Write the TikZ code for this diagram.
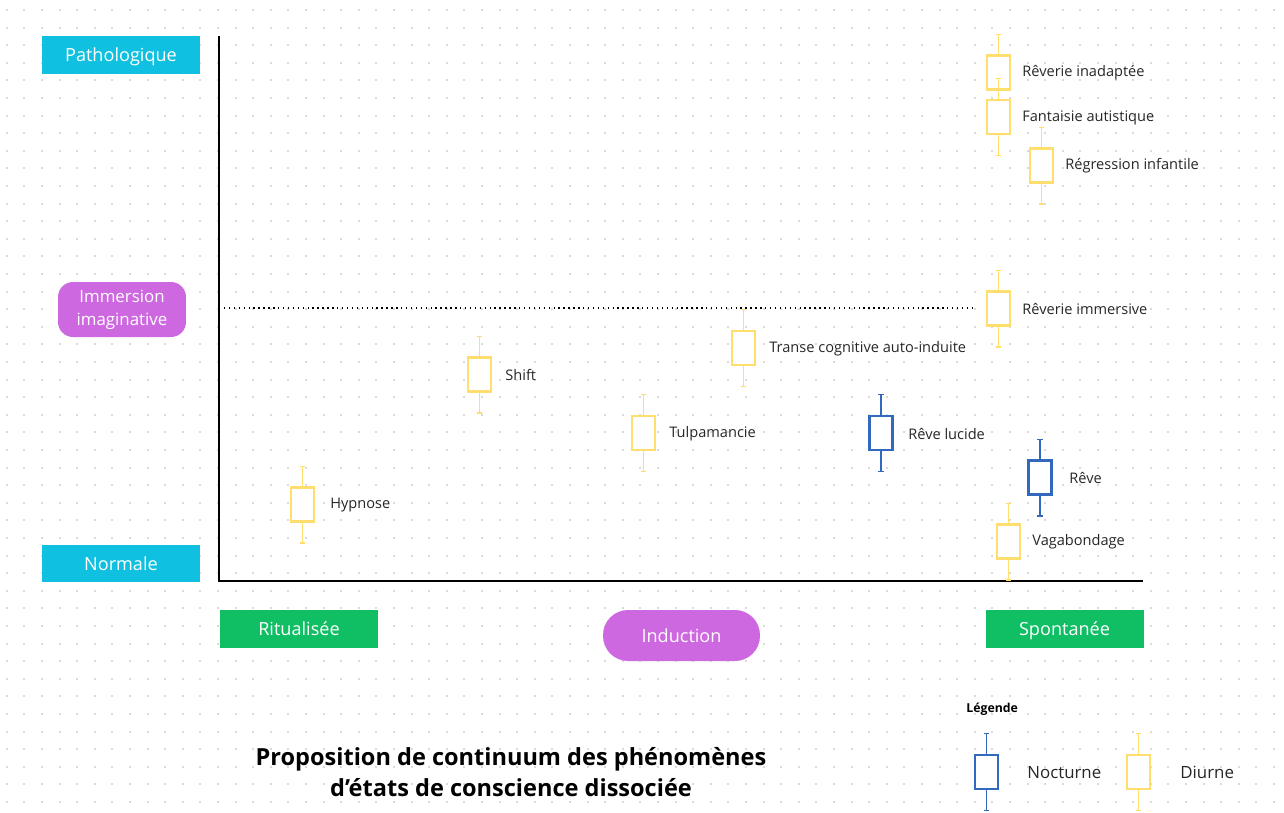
\documentclass[tikz,border=0pt]{standalone}
\usepackage{fontspec}
\setmainfont{Open Sans}
\usetikzlibrary{arrows.meta}
\definecolor{cyanbox}{RGB}{16,192,224}
\definecolor{vertbox}{RGB}{16,190,100}
\definecolor{mauve}{RGB}{206,104,224}
\definecolor{diurne}{RGB}{255,222,110}
\definecolor{nocturne}{RGB}{50,104,190}
\definecolor{grille}{RGB}{218,218,218}
\newcommand{\centretxt}[1]{\raisebox{-3.7pt}[0pt][0pt]{#1}}
\tikzset{axis/.style={line width=1.5pt},
  niveau/.style={fill=cyanbox,text=white,minimum width=3.16cm,minimum height=0.76cm,inner sep=0pt,font=\fontsize{10.3}{12}\selectfont},
  mode/.style={fill=vertbox,text=white,minimum width=3.16cm,minimum height=0.76cm,inner sep=0pt,font=\fontsize{10.3}{12}\selectfont},
  pastille/.style={fill=mauve,text=white,rounded corners=0.3cm,inner sep=0pt,align=center,font=\fontsize{10.3}{13}\selectfont},
  etat/.style={fill=white,line width=1.2pt,minimum width=0.46cm,minimum height=0.68cm,inner sep=0pt},
  whisk/.style={line width=0.8pt,{Bar[width=3pt]}-{Bar[width=3pt]}},
  etiquette/.style={anchor=west,inner sep=0pt,yshift=-0.3pt,text=black!85,font=\fontsize{8.3}{10}\selectfont}}

\begin{document}
\begin{tikzpicture}[x=0.02cm,y=-0.02cm]
    \useasboundingbox (0,0) rectangle (1284,812);
    % dotted background
    \foreach \i in {0,...,72}
        \foreach \j in {0,...,45}
            \fill[grille] (6.7+17.6*\i-1,10+17.6*\j-1) rectangle ++(2,2);
    % axes
    \coordinate (O) at (219,581);
    \draw[axis] (219,36) -- (O) -- (1143,581);
    \coordinate (S) at (219,308);
    \coordinate (E) at (975,308);
    \draw[dotted,thick] (S) -- (E);
    % levels and modes
    \node[niveau] (patho) at (121,55) {\centretxt{Pathologique}};
    \node[niveau,minimum height=0.74cm] (normale) at (121,563.5) {\centretxt{Normale}};
    \node[pastille,minimum width=2.56cm,minimum height=1.1cm,font=\fontsize{9.6}{13}\selectfont] (immersion) at (122,309.5) {Immersion\\imaginative};
    \node[mode] (ritual) at (299,629) {\centretxt{Ritualisée}};
    \node[pastille,rounded corners=0.5cm,minimum width=3.14cm,minimum height=1.02cm] (induction) at (681.5,635.5) {\centretxt{Induction}};
    \node[mode] (spont) at (1064.5,629) {\centretxt{Spontanée}};
    % phenomena
    \foreach \n/\x/\y/\c/\lx/\t in {
        inadaptee/998.5/72.5/diurne/1022/Rêverie inadaptée,
        fantaisie/998.5/117/diurne/1022/Fantaisie autistique,
        regression/1041.5/165.5/diurne/1065/Régression infantile,
        immersive/998.5/308.5/diurne/1022/Rêverie immersive,
        transe/743.5/348/diurne/769/Transe cognitive auto-induite,
        shift/479.5/374.5/diurne/505/Shift,
        tulpa/643.5/433/diurne/669/Tulpamancie,
        lucide/881/433/nocturne/908/Rêve lucide,
        reve/1040/477.5/nocturne/1069/Rêve,
        hypnose/302.5/504.5/diurne/330/Hypnose,
        vagab/1008.5/541.5/diurne/1032/Vagabondage}{
        \coordinate (\n-top) at (\x,\y-39);
        \coordinate (\n-bot) at (\x,\y+39);
        \draw[whisk,draw=\c] (\n-top) -- (\n-bot);
        \node[etat,draw=\c] (\n) at (\x,\y) {};
        \node[etiquette] (\n-txt) at (\lx,\y) {\t};
    }
    % legend
    \node[anchor=west,inner sep=0pt,font=\bfseries\fontsize{7}{8}\selectfont] (legende) at (966,709) {Légende};
    \foreach \n/\x/\c/\lx/\t in {noct/986.5/nocturne/1027/Nocturne, diur/1138.5/diurne/1180/Diurne}{
        \coordinate (\n-top) at (\x,733);
        \coordinate (\n-bot) at (\x,811);
        \draw[whisk,draw=\c] (\n-top) -- (\n-bot);
        \node[etat,draw=\c] (\n) at (\x,772) {};
        \node[etiquette,font=\fontsize{9.6}{11}\selectfont] (\n-txt) at (\lx,772) {\t};
    }
    % title
    \node[align=center,font=\bfseries\fontsize{13.4}{18}\selectfont] (titre) at (511,772) {Proposition de continuum des phénomènes\\d’états de conscience dissociée};
\end{tikzpicture}
\end{document}
